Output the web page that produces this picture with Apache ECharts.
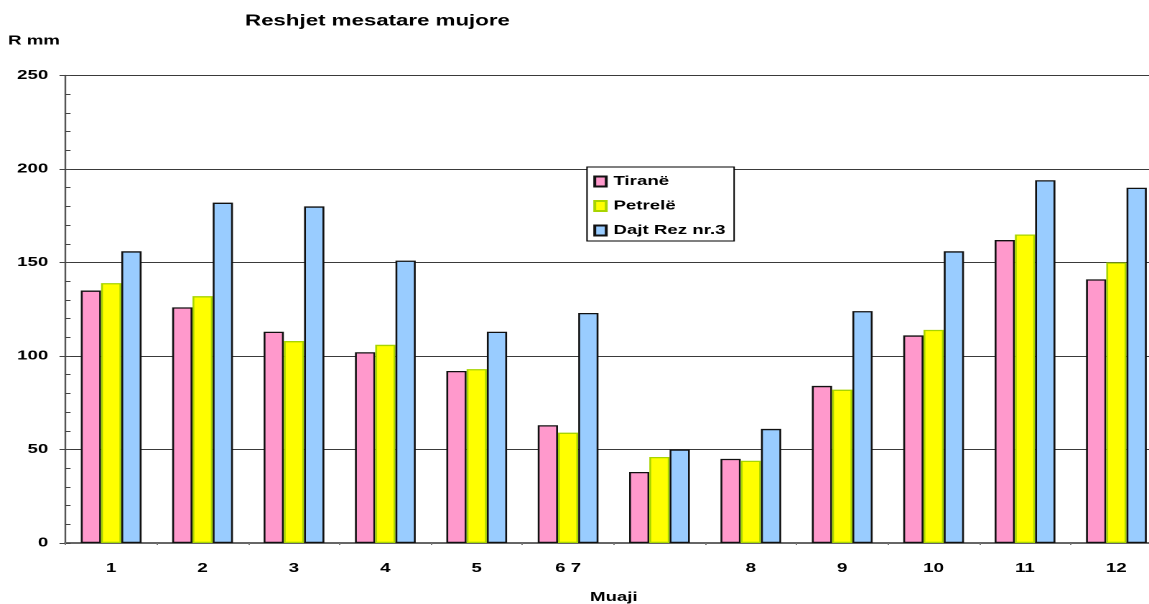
<!DOCTYPE html>
<html>
<head>
<meta charset="utf-8">
<script src="https://cdn.jsdelivr.net/npm/echarts@6/dist/echarts.min.js"></script>
<style>
  html, body { margin: 0; padding: 0; background: #fff; overflow: hidden; }
  #wrap { width: 1149px; height: 604px; overflow: hidden; position: relative; }
  #chart { width: 800px; height: 604px; transform: scaleX(1.43625); transform-origin: 0 0; }
</style>
</head>
<body>
<div id="wrap"><div id="chart"></div></div>
<script>
const categories = ['1', '2', '3', '4', '5', '6 7', '', '8', '9', '10', '11', '12'];
const tirane  = [135, 126, 113, 102, 92, 63, 38, 45, 84, 111, 162, 141];
const petrele = [139, 132, 108, 106, 93, 59, 46, 44, 82, 114, 165, 150];
const dajt    = [156, 182, 180, 151, 113, 123, 50, 61, 124, 156, 194, 190];
const seriesNames = ['Tiranë', 'Petrelë', 'Dajt Rez nr.3'];

const FONT = "'Liberation Sans', Arial, sans-serif";
const chart = echarts.init(document.getElementById('chart'), null, { renderer: 'canvas', devicePixelRatio: 2 });

const barW = 14.1;
function bar(name, data, color, border) {
  return {
    name: name, type: 'bar', data: data, barWidth: barW, barGap: '0%',
    xAxisIndex: 0, yAxisIndex: 0,
    itemStyle: { color: color, borderColor: border, borderWidth: 1.3 },
    emphasis: { disabled: true }
  };
}

chart.setOption({
  animation: false,
  backgroundColor: '#fff',
  textStyle: { fontFamily: FONT },
  title: [
    { text: 'Reshjet mesatare mujore', left: 262.8, top: 13, textAlign: 'center', padding: 0,
      textStyle: { fontFamily: FONT, fontSize: 15.5, fontWeight: 'bold', color: '#000' } },
    { text: 'R mm', left: 5.6, top: 34.5, padding: 0,
      textStyle: { fontFamily: FONT, fontSize: 13, fontWeight: 'bold', color: '#000' } }
  ],
  legend: {
    orient: 'vertical', left: 408.7, top: 167,
    data: seriesNames,
    backgroundColor: '#fff', borderColor: '#000', borderWidth: 1,
    padding: [8, 6, 4, 4.4], itemGap: 11.5, itemWidth: 8, itemHeight: 10, itemTextGap: 4,
    icon: 'rect',
    textStyle: { fontFamily: FONT, fontSize: 13, fontWeight: 'bold', color: '#000' },
    selectedMode: false
  },
  grid: { left: 45.6, top: 75.5, width: 763.5, height: 467.5, containLabel: false, outerBoundsMode: 'none' },
  xAxis: [
    {
      type: 'category', data: categories, position: 'bottom',
      axisLine: { show: true, lineStyle: { color: '#666', width: 2 } },
      axisTick: { show: false },
      axisLabel: { margin: 19, fontFamily: FONT, fontSize: 13, fontWeight: 'bold', color: '#000', interval: 0 },
      name: 'Muaji', nameLocation: 'middle', nameGap: 48,
      nameTextStyle: { fontFamily: FONT, fontSize: 13, fontWeight: 'bold', color: '#000' }
    },
    {
      type: 'category', data: categories, position: 'bottom', offset: 5,
      axisLine: { show: false },
      axisTick: { show: true, length: 2, lineStyle: { color: '#777', width: 1 } },
      axisLabel: { show: false }
    }
  ],
  yAxis: [
    {
      type: 'value', min: 0, max: 250, interval: 50, position: 'left',
      axisLine: { show: true, lineStyle: { color: '#555', width: 1.2 } },
      axisTick: { show: true, length: 4.2, lineStyle: { color: '#444', width: 1 } },
      axisLabel: { margin: 12, fontFamily: FONT, fontSize: 13, fontWeight: 'bold', color: '#000' },
      splitLine: { show: true, lineStyle: { color: '#3a3a3a', width: 1 } }
    },
    {
      type: 'value', min: 0, max: 250, interval: 10, position: 'left',
      axisLine: { show: false },
      axisTick: { show: true, inside: true, length: 3.5, lineStyle: { color: '#444', width: 1 } },
      axisLabel: { show: false },
      splitLine: { show: false }
    }
  ],
  series: [
    bar(seriesNames[0], tirane, '#ff99cc', '#111'),
    bar(seriesNames[1], petrele, '#ffff00', '#a8d400'),
    bar(seriesNames[2], dajt, '#99ccff', '#111')
  ]
});
</script>
</body>
</html>
